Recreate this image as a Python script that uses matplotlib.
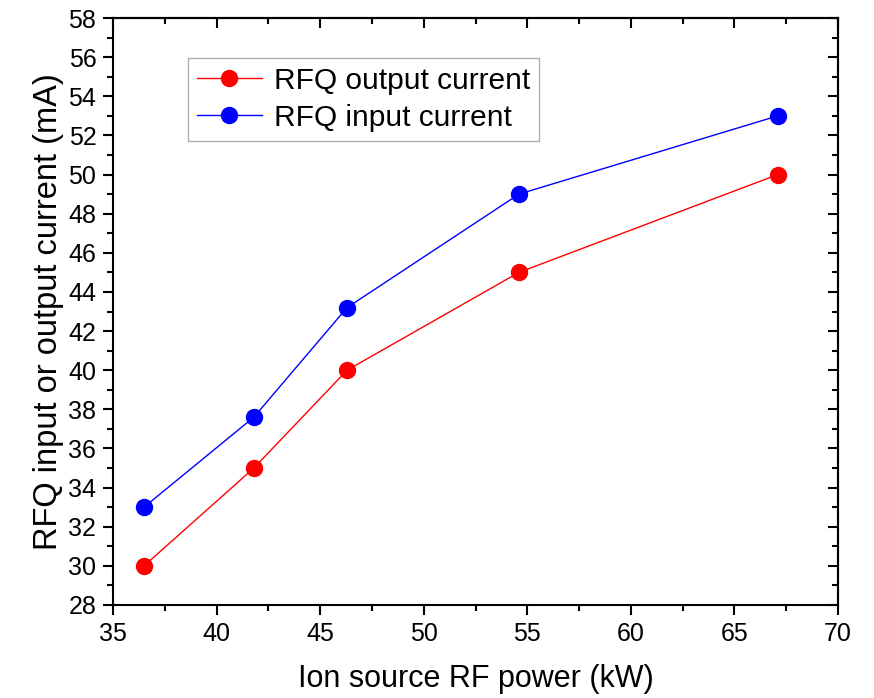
import numpy as np
import matplotlib
matplotlib.use('Agg')
import matplotlib.pyplot as plt
from matplotlib.ticker import MultipleLocator

# Data
power_kw = [36.5, 41.8, 46.3, 54.6, 67.1]
output_ma = [30, 35, 40, 45, 50]
input_ma = [33, 37.6, 43.2, 49, 53]

plt.rcParams['font.family'] = ['Liberation Sans', 'DejaVu Sans']

fig = plt.figure(figsize=(8.74, 6.98), dpi=100, facecolor='white')
ax = fig.add_axes([113/874, 1 - 605/698, (838-113)/874, (605-18)/698])

ax.plot(power_kw, output_ma, color='red', lw=1, marker='o', ms=11.5,
        label='RFQ output current')
ax.plot(power_kw, input_ma, color='blue', lw=1, marker='o', ms=11.5,
        label='RFQ input current')

ax.set_xlim(35, 70)
ax.set_ylim(28, 58)
ax.xaxis.set_major_locator(MultipleLocator(5))
ax.xaxis.set_minor_locator(MultipleLocator(2.5))
ax.yaxis.set_major_locator(MultipleLocator(2))
ax.yaxis.set_minor_locator(MultipleLocator(1))

for s in ax.spines.values():
    s.set_linewidth(1.5)
ax.tick_params(which='both', direction='out', width=1.5, labelsize=18,
               bottom=True, left=True)
ax.tick_params(which='major', length=7, pad=5)
ax.tick_params(which='minor', length=4)

# inward ticks on top and right, no labels
ax2 = ax.secondary_xaxis('top')
ax2.xaxis.set_major_locator(MultipleLocator(5))
ax2.xaxis.set_minor_locator(MultipleLocator(2.5))
ax2.tick_params(which='both', direction='in', width=1.5, labeltop=False)
ax2.tick_params(which='major', length=7)
ax2.tick_params(which='minor', length=4)
ay2 = ax.secondary_yaxis('right')
ay2.yaxis.set_major_locator(MultipleLocator(2))
ay2.yaxis.set_minor_locator(MultipleLocator(1))
ay2.tick_params(which='both', direction='in', width=1.5, labelright=False)
ay2.tick_params(which='major', length=7)
ay2.tick_params(which='minor', length=4)
ax2.spines['top'].set_linewidth(1.5)
ay2.spines['right'].set_linewidth(1.5)

ax.set_xlabel('Ion source RF power (kW)', fontsize=22, labelpad=13)
ax.set_ylabel('RFQ input or output current (mA)', fontsize=23.5, labelpad=3)

leg = ax.legend(loc='upper left', bbox_to_anchor=(0.103, 0.932), fontsize=21.5,
                frameon=True, fancybox=False, handlelength=2.2,
                borderpad=0.3, labelspacing=0.3, handletextpad=0.4,
                borderaxespad=0)
leg.get_frame().set_edgecolor('#999999')
leg.get_frame().set_linewidth(1)

plt.savefig('out.png', facecolor='white')
